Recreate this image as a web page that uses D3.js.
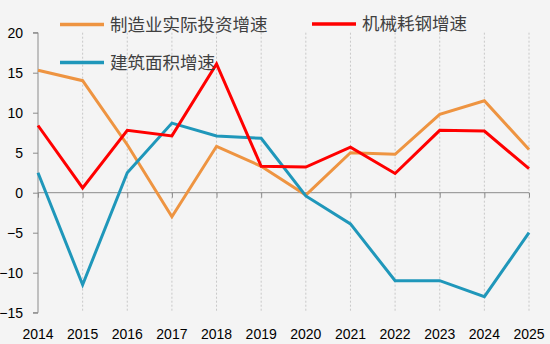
<!DOCTYPE html>
<html>
<head>
<meta charset="utf-8">
<script src="https://cdn.jsdelivr.net/npm/d3@7"></script>
<style>
  body { margin: 0; background: #f4f4f4; }
  svg { display: block; }
</style>
</head>
<body>
<div id="chart"></div>
<script>
// years and the three growth series (%)
var years = [2014, 2015, 2016, 2017, 2018, 2019, 2020, 2021, 2022, 2023, 2024, 2025];
var investment = [15.3, 14.0, 6.0, -3.0, 5.8, 3.3, -0.3, 5.0, 4.8, 9.8, 11.5, 5.4];
var steel = [8.4, 0.6, 7.8, 7.1, 16.1, 3.3, 3.2, 5.7, 2.4, 7.8, 7.7, 3.0];
var area = [2.5, -11.5, 2.5, 8.7, 7.1, 6.8, -0.4, -3.9, -11.0, -11.0, -13.0, -5.0];
var yTicks = [20, 15, 10, 5, 0, -5, -10, -15];

var width = 550, height = 344;
var plotLeft = 38, plotRight = 529, plotTop = 32.7, plotBottom = 312.7;

var svg = d3.select("#chart").append("svg")
        .attr("width", width)
        .attr("height", height);

svg.append("rect")
        .attr("width", width)
        .attr("height", height)
        .attr("fill", "#f4f4f4");

var x = d3.scalePoint().domain(years).range([plotLeft, plotRight]);
var y = d3.scaleLinear().domain([-15, 20]).range([plotBottom, plotTop]);

// dotted vertical grid
svg.selectAll("line.grid")
        .data(years.slice(1))
        .enter().append("line")
        .attr("class", "grid")
        .attr("x1", function (d) { return x(d); })
        .attr("x2", function (d) { return x(d); })
        .attr("y1", y(20))
        .attr("y2", y(-15))
        .attr("stroke", "#c8c8c8")
        .attr("stroke-width", 1)
        .attr("stroke-dasharray", "2,2");

// left axis
var yAxis = svg.append("g")
        .attr("transform", "translate(" + plotLeft + ",0)")
        .call(d3.axisLeft(y).tickValues(yTicks).tickSize(5).tickPadding(10));
yAxis.select(".domain").attr("stroke", "#8c8c8c").attr("d", "M-5," + y(20) + "H0V" + y(-15) + "H-5");
yAxis.selectAll(".tick line").attr("stroke", "#8c8c8c");
yAxis.selectAll(".tick text")
        .attr("fill", "#000")
        .style("font-family", "'Liberation Sans', Arial, sans-serif")
        .style("font-size", "14px");

// zero line with ticks
var xAxis = svg.append("g")
        .attr("transform", "translate(0," + y(0) + ")")
        .call(d3.axisBottom(x).tickSize(5).tickFormat(""));
xAxis.select(".domain").attr("stroke", "#8c8c8c").attr("d", "M" + plotLeft + ",0H" + plotRight);
xAxis.selectAll(".tick line").attr("stroke", "#8c8c8c");

// year labels at the bottom
svg.selectAll("text.year")
        .data(years)
        .enter().append("text")
        .attr("class", "year")
        .attr("x", function (d) { return x(d); })
        .attr("y", 339)
        .attr("text-anchor", "middle")
        .attr("fill", "#000")
        .style("font-family", "'Liberation Sans', Arial, sans-serif")
        .style("font-size", "14px")
        .text(function (d) { return d; });

var line = d3.line()
        .x(function (d, i) { return x(years[i]); })
        .y(function (d) { return y(d); });

var series = [
    {name: "制造业实际投资增速", values: investment, color: "#ee9441", lx: 60, ly: 24.5},
    {name: "建筑面积增速", values: area, color: "#1f97ba", lx: 60, ly: 62.5},
    {name: "机械耗钢增速", values: steel, color: "#ff0000", lx: 312, ly: 24}
];

// draw order: orange, blue, red on top
series.forEach(function (s) {
    svg.append("path")
            .datum(s.values)
            .attr("d", line)
            .attr("fill", "none")
            .attr("stroke", s.color)
            .attr("stroke-width", 3)
            .attr("stroke-linejoin", "miter");
});

// legend
series.forEach(function (s) {
    svg.append("line")
            .attr("x1", s.lx)
            .attr("x2", s.lx + 44)
            .attr("y1", s.ly)
            .attr("y2", s.ly)
            .attr("stroke", s.color)
            .attr("stroke-width", 3.5);
    svg.append("text")
            .attr("x", s.lx + 50)
            .attr("y", s.ly)
            .attr("dy", "0.35em")
            .attr("fill", "#404040")
            .style("font-family", "'Noto Sans CJK SC', sans-serif")
            .style("font-size", "17.5px")
            .text(s.name);
});
</script>
</body>
</html>
